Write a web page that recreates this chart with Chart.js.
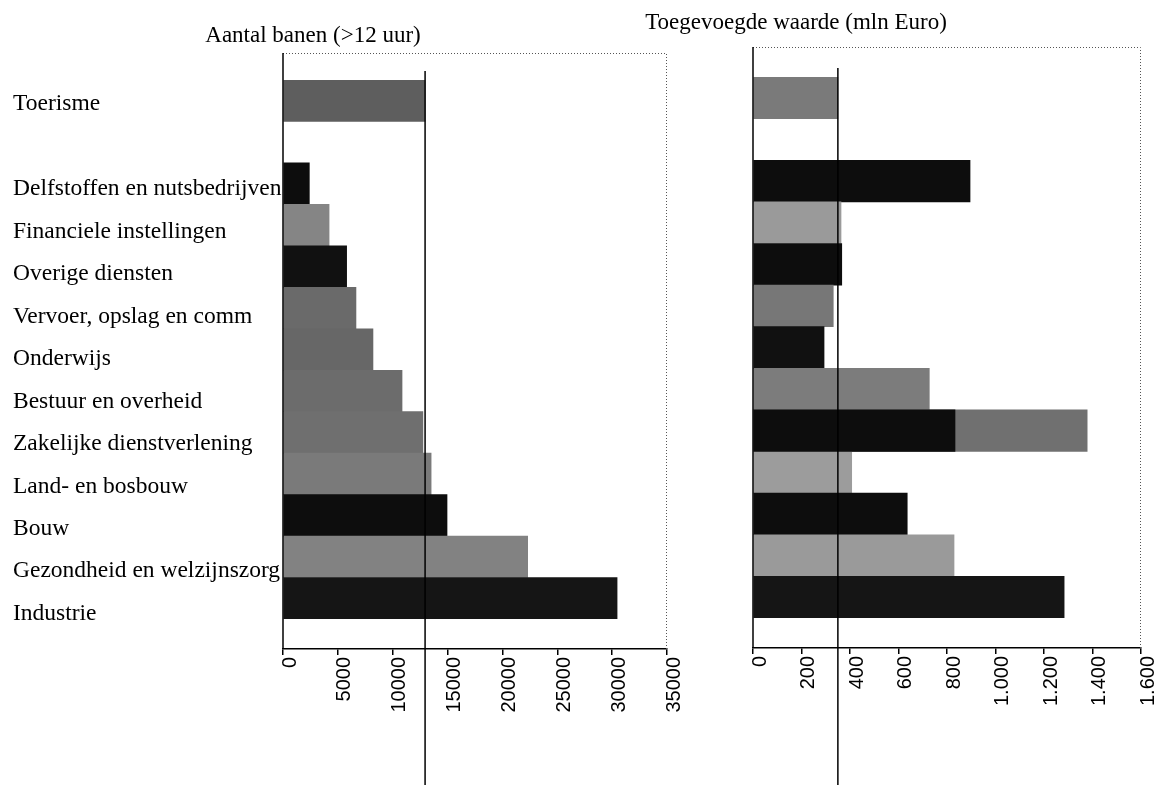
<!DOCTYPE html>
<html>
<head>
<meta charset="utf-8">
<script src="https://cdn.jsdelivr.net/npm/chart.js@4"></script>
<style>
  html, body { margin: 0; padding: 0; background: #fff; overflow: hidden; width: 1157px; height: 785px; }
  canvas { position: absolute; top: 0; }
  #left { left: 0; }
  #right { left: 600px; }
</style>
</head>
<body>
<canvas id="left" width="700" height="785"></canvas>
<canvas id="right" width="580" height="785"></canvas>
<script>
// sectors, top to bottom (empty label = the gap under Toerisme)
const SECTORS = [
  'Toerisme', '',
  'Delfstoffen en nutsbedrijven', 'Financiele instellingen', 'Overige diensten',
  'Vervoer, opslag en comm', 'Onderwijs', 'Bestuur en overheid',
  'Zakelijke dienstverlening', 'Land- en bosbouw', 'Bouw',
  'Gezondheid en welzijnszorg', 'Industrie'
];
const BANEN = [12950, null, 2400, 4200, 5800, 6650, 8200, 10850, 12750, 13500, 14950, 22300, 30450];
const WAARDE = [350, null, 895, 363, 366, 331, 293, 727, 1378, 407, 636, 829, 1283];
const WAARDE_DONKER = [null, null, null, null, null, null, null, null, 833, null, null, null, null];
const BANEN_TICKS = [0, 5000, 10000, 15000, 20000, 25000, 30000, 35000];
const WAARDE_TICKS = [0, 200, 400, 600, 800, 1000, 1200, 1400, 1600];

const BANEN_COLORS = ['#5e5e5e', '#000', '#0d0d0d', '#858585', '#111', '#6a6a6a', '#676767',
  '#6c6c6c', '#6f6f6f', '#7a7a7a', '#0d0d0d', '#828282', '#151515'];
const WAARDE_COLORS = ['#7a7a7a', '#000', '#0d0d0d', '#9a9a9a', '#0d0d0d', '#777', '#111',
  '#7c7c7c', '#707070', '#9c9c9c', '#0d0d0d', '#9a9a9a', '#151515'];

const dotted = n => String(n).replace(/\B(?=(\d{3})+(?!\d))/g, '.');

// squeeze category scales into a band inside the plot frame
const bandPlugin = {
  id: 'band',
  afterLayout(chart, args, opts) {
    const a = chart.chartArea;
    Object.keys(opts.bands || {}).forEach(id => {
      const s = chart.scales[id];
      s.top = a.top + opts.bands[id][0];
      s.bottom = a.bottom - opts.bands[id][1];
      s.configure();
    });
  }
};

const framePlugin = {
  id: 'frame',
  afterDatasetsDraw(chart, args, opts) {
    const { ctx, chartArea: a } = chart;
    ctx.save();
    ctx.strokeStyle = '#555';
    ctx.lineWidth = 1;
    ctx.setLineDash([1, 2]);
    ctx.beginPath();
    ctx.moveTo(a.left, a.top + 0.5);
    ctx.lineTo(a.right - 0.5, a.top + 0.5);
    ctx.lineTo(a.right - 0.5, a.bottom);
    ctx.stroke();
    ctx.setLineDash([]);
    ctx.strokeStyle = '#000';
    ctx.lineWidth = 1.5;
    ctx.beginPath();
    ctx.moveTo(a.left, a.top);
    ctx.lineTo(a.left, a.bottom);
    ctx.stroke();
    // reference line at the Toerisme value
    const bar = chart.getDatasetMeta(0).data[0];
    const x = chart.scales.x.getPixelForValue(opts.ref);
    ctx.beginPath();
    ctx.moveTo(x, bar.y - bar.height / 2 - 9);
    ctx.lineTo(x, chart.height);
    ctx.stroke();
    ctx.restore();
  },
  afterDraw(chart, args, opts) {
    const ctx = chart.ctx;
    ctx.save();
    ctx.font = '23px "Liberation Serif"';
    ctx.fillStyle = '#000';
    ctx.textAlign = 'center';
    ctx.textBaseline = 'middle';
    ctx.fillText(opts.title, opts.titleX, opts.titleY);
    ctx.restore();
  }
};

function xAxis(ticks, fmt, h) {
  return {
    type: 'linear',
    min: ticks[0],
    max: ticks[ticks.length - 1],
    afterBuildTicks: s => { s.ticks = ticks.map(value => ({ value })); },
    afterFit: s => { s.height = h; },
    grid: { drawOnChartArea: false, drawTicks: true, tickLength: 6, color: '#000', lineWidth: 1.5 },
    border: { display: true, color: '#000', width: 1.5 },
    ticks: {
      minRotation: 90, maxRotation: 90, autoSkip: false, padding: 2, labelOffset: 7,
      color: '#000', font: { family: 'Liberation Sans', size: 20 },
      callback: fmt
    }
  };
}

new Chart(document.getElementById('left'), {
  type: 'bar',
  data: {
    labels: SECTORS,
    datasets: [{
      data: BANEN,
      yAxisID: 'yBars',
      backgroundColor: BANEN_COLORS,
      barPercentage: 1,
      categoryPercentage: 1,
      borderWidth: 0
    }]
  },
  options: {
    indexAxis: 'y',
    responsive: false,
    animation: false,
    layout: { padding: { left: 13, right: 33, top: 53, bottom: 0 } },
    scales: {
      x: xAxis(BANEN_TICKS, v => String(v), 136),
      yBars: { type: 'category', position: 'left', display: false, offset: true },
      yLabels: {
        type: 'category',
        position: 'left',
        labels: SECTORS,
        offset: true,
        afterFit: s => { s.width = 270; },
        grid: { display: false },
        border: { display: false },
        ticks: {
          autoSkip: false, crossAlign: 'far', padding: 0,
          color: '#000', font: { family: 'Liberation Serif', size: 23.5 }
        }
      }
    },
    plugins: {
      legend: { display: false },
      tooltip: { enabled: false },
      band: { bands: { yBars: [27, 30], yLabels: [30, 14] } },
      frame: { ref: BANEN[0], title: 'Aantal banen (>12 uur)', titleX: 313, titleY: 36 }
    }
  },
  plugins: [bandPlugin, framePlugin]
});

new Chart(document.getElementById('right'), {
  type: 'bar',
  data: {
    labels: SECTORS,
    datasets: [{
      data: WAARDE,
      yAxisID: 'yBars',
      backgroundColor: WAARDE_COLORS,
      barPercentage: 1,
      categoryPercentage: 1,
      grouped: false,
      order: 1,
      borderWidth: 0
    }, {
      data: WAARDE_DONKER,
      yAxisID: 'yBars',
      backgroundColor: '#0d0d0d',
      barPercentage: 1,
      categoryPercentage: 1,
      grouped: false,
      order: 0,
      borderWidth: 0
    }]
  },
  options: {
    indexAxis: 'y',
    responsive: false,
    animation: false,
    layout: { padding: { left: 153, right: 39, top: 47, bottom: 0 } },
    scales: {
      x: xAxis(WAARDE_TICKS, v => dotted(v), 137),
      yBars: { type: 'category', position: 'left', display: false, offset: true }
    },
    plugins: {
      legend: { display: false },
      tooltip: { enabled: false },
      band: { bands: { yBars: [30, 30] } },
      frame: { ref: WAARDE[0], title: 'Toegevoegde waarde (mln Euro)', titleX: 196, titleY: 23 }
    }
  },
  plugins: [bandPlugin, framePlugin]
});
</script>
</body>
</html>
